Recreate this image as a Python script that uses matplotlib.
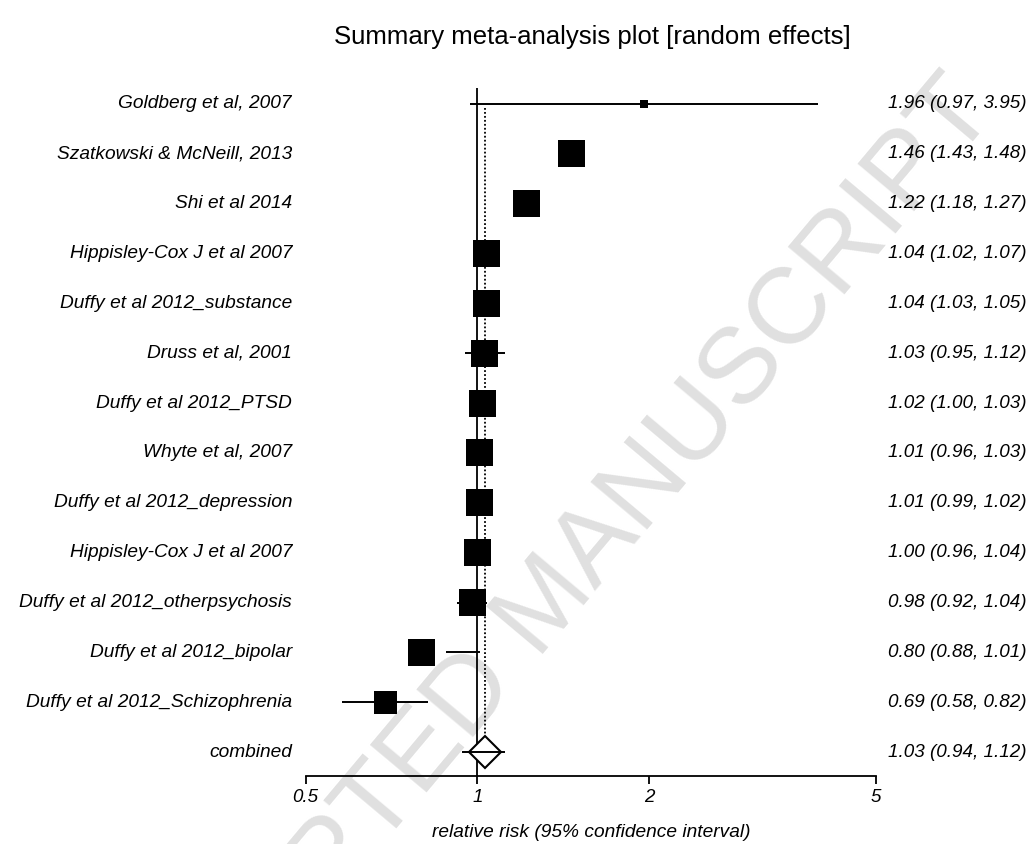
import numpy as np
import matplotlib
matplotlib.use("Agg")
import matplotlib.pyplot as plt
import matplotlib.transforms as mtransforms

plt.rcParams['font.family'] = ['Liberation Sans', 'DejaVu Sans']

# data
studies = [
    "Goldberg et al, 2007",
    "Szatkowski & McNeill, 2013",
    "Shi et al 2014",
    "Hippisley-Cox J et al 2007",
    "Duffy et al 2012_substance",
    "Druss et al, 2001",
    "Duffy et al 2012_PTSD",
    "Whyte et al, 2007",
    "Duffy et al 2012_depression",
    "Hippisley-Cox J et al 2007",
    "Duffy et al 2012_otherpsychosis",
    "Duffy et al 2012_bipolar",
    "Duffy et al 2012_Schizophrenia",
]
rr = [1.96, 1.46, 1.22, 1.04, 1.04, 1.03, 1.02, 1.01, 1.01, 1.00, 0.98, 0.80, 0.69]
lower = [0.97, 1.43, 1.18, 1.02, 1.03, 0.95, 1.00, 0.96, 0.99, 0.96, 0.92, 0.88, 0.58]
upper = [3.95, 1.48, 1.27, 1.07, 1.05, 1.12, 1.03, 1.03, 1.02, 1.04, 1.04, 1.01, 0.82]
weights = [0.9, 8.5, 8.5, 8.5, 8.5, 8.5, 8.5, 8.5, 8.5, 8.5, 8.5, 8.5, 6.2]  # % weight (box area)

combined_label = "combined"
combined_rr = 1.03
combined_lo = 0.94
combined_hi = 1.12

xticks = [0.5, 1, 2, 5]
xtick_labels = ["0.5", "1", "2", "5"]

W, H = 1034, 844
fig = plt.figure(figsize=(W / 100, H / 100), dpi=100)

# watermark behind the plot (runs off the page like in the original)
fig.text(0.529, 0.283, "ACCEPTED MANUSCRIPT", rotation=50, fontsize=78,
         color="#e0e0e0", ha="center", va="center", zorder=0)

ax = fig.add_axes([305.5 / W, 1 - 776 / H, (876 - 305.5) / W, (776 - 88) / H])
ax.set_zorder(1)
ax.patch.set_alpha(0)
ax.set_xscale("log")
ax.set_xlim(0.5, 5)
n = len(studies)
ax.set_ylim(n + 0.48, -0.32)

for s in ["left", "right", "top"]:
    ax.spines[s].set_visible(False)
ax.spines["bottom"].set_linewidth(1.3)
ax.set_yticks([])
ax.set_xticks(xticks)
ax.set_xticklabels(xtick_labels, fontsize=13.5, style="italic")
ax.minorticks_off()
ax.tick_params(axis="x", direction="out", length=6, width=1.3, pad=3)
ax.set_xlabel("relative risk (95% confidence interval)", fontsize=13.8,
              style="italic", labelpad=13)

# line of no effect and pooled estimate
ax.axvline(1, color="black", lw=1.3, zorder=2)
ax.plot([combined_rr, combined_rr], [0.08, n - 0.34], color="black",
        lw=1.3, ls=(0, (1, 1.2)), zorder=2)

ypos = np.arange(n)
ax.hlines(ypos, lower, upper, color="black", lw=1.4, zorder=3)
side_px = 27 * np.sqrt(np.array(weights) / 8.5)
ax.scatter(rr, ypos, s=(side_px * 0.72) ** 2, marker="s", color="black",
           zorder=4, linewidths=0)

ax.plot(combined_rr, n, marker="D", ms=16.5, mfc="white", mec="black",
        mew=1.5, zorder=4)
ax.hlines(n, combined_lo, combined_hi, color="black", lw=1.4, zorder=5)

trans = mtransforms.blended_transform_factory(fig.transFigure, ax.transData)
for i, name in enumerate(studies + [combined_label]):
    ax.text(292 / W, i, name, transform=trans, ha="right", va="center",
            fontsize=13.8, style="italic", clip_on=False)

vals = list(zip(rr, lower, upper)) + [(combined_rr, combined_lo, combined_hi)]
for i, (m, lo, hi) in enumerate(vals):
    ax.text(1027 / W, i, f"{m:.2f} ({lo:.2f}, {hi:.2f})", transform=trans,
            ha="right", va="center", fontsize=13.6, style="italic",
            clip_on=False)

fig.text(592 / W, 1 - 37 / H, "Summary meta-analysis plot [random effects]",
         ha="center", va="center", fontsize=18.5)

fig.savefig("out.png", dpi=100)
